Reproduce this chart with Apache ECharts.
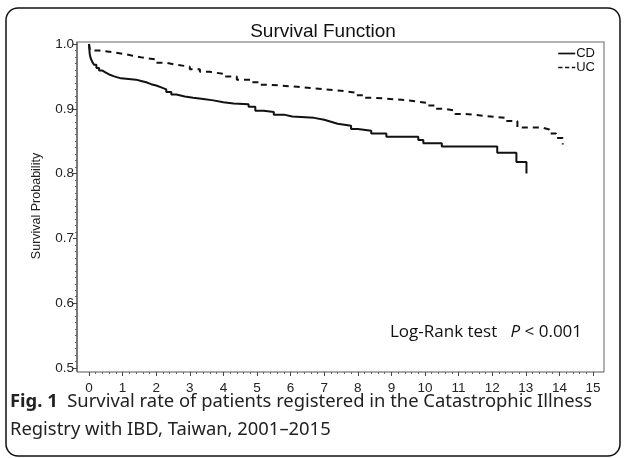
<!DOCTYPE html>
<html>
<head>
<meta charset="utf-8">
<script src="https://cdn.jsdelivr.net/npm/echarts@6/dist/echarts.min.js"></script>
<style>
  html, body { margin: 0; padding: 0; background: #fff; }
  #chart { width: 624px; height: 458px; }
</style>
</head>
<body>
<div id="chart"></div>
<script>
// Kaplan-Meier steps (years, survival after the step)
var cdTime = [0, 0.02, 0.05, 0.1, 0.15, 0.22, 0.3, 0.4, 0.5, 0.6, 0.75, 0.95, 1.4, 1.55, 1.7, 1.85, 2.0, 2.15, 2.3, 2.45, 2.6, 2.85, 3.1, 3.4, 3.7, 4.0, 4.3, 4.75, 4.95, 5.2, 5.5, 5.8, 6.05, 6.7, 7.0, 7.2, 7.4, 7.8, 8.0, 8.4, 8.85, 9.8, 9.95, 10.5, 12.15, 12.72, 13.02];
var cdSurv = [1.0, 0.985, 0.978, 0.972, 0.968, 0.963, 0.959, 0.956, 0.953, 0.95, 0.947, 0.945, 0.943, 0.941, 0.938, 0.936, 0.933, 0.93, 0.926, 0.922, 0.919, 0.917, 0.915, 0.913, 0.91, 0.908, 0.907, 0.903, 0.897, 0.895, 0.891, 0.888, 0.886, 0.883, 0.88, 0.877, 0.874, 0.869, 0.866, 0.862, 0.857, 0.852, 0.847, 0.842, 0.832, 0.818, 0.80];
var ucTime = [0, 0.03, 0.3, 0.6, 1.0, 1.3, 1.6, 2.0, 2.3, 2.6, 3.0, 3.3, 3.6, 4.0, 4.4, 4.8, 5.1, 5.4, 6.2, 6.6, 7.0, 7.5, 7.9, 8.2, 8.5, 9.3, 9.8, 10.1, 10.3, 10.6, 10.9, 11.2, 11.8, 12.4, 12.75, 13.5, 13.7, 13.9, 14.1];
var ucSurv = [1.0, 0.99, 0.988, 0.985, 0.982, 0.979, 0.976, 0.971, 0.968, 0.965, 0.961, 0.957, 0.954, 0.95, 0.945, 0.941, 0.937, 0.934, 0.932, 0.93, 0.928, 0.925, 0.921, 0.917, 0.914, 0.911, 0.909, 0.905, 0.9, 0.897, 0.892, 0.889, 0.886, 0.881, 0.871, 0.868, 0.862, 0.855, 0.845];

function zip(xs, ys) {
    var out = [];
    for (var i = 0; i < xs.length; i++) out.push([xs[i], ys[i]]);
    return out;
}

var myChart = echarts.init(document.getElementById('chart'));

var axisFont = { fontFamily: 'Liberation Sans', fontSize: 13.5, color: '#222' };
var hidden = { show: false };

var option = {
    animation: false,
    backgroundColor: '#fff',
    title: {
        text: 'Survival Function',
        left: 318,
        textAlign: 'center',
        top: 17,
        textStyle: { fontFamily: 'Liberation Sans', fontSize: 19, fontWeight: 'normal', color: '#111' }
    },
    legend: {
        orient: 'vertical',
        right: 24,
        top: 42,
        itemWidth: 17,
        itemHeight: 2,
        itemGap: 1,
        textStyle: { fontFamily: 'Liberation Sans', fontSize: 13, color: '#111', padding: [0, 0, 0, -4] },
        data: [
            { name: 'CD', icon: 'path://M0,0h20v2h-20z' },
            { name: 'UC', icon: 'path://M0,0h5v2h-5z M8,0h5v2h-5z M16,0h4v2h-4z' }
        ]
    },
    // grid 0 carries the visible y axis, grid 1 the data, grid 2 the visible x axis
    grid: [
        { left: 77, right: 20, top: 44, bottom: 90 },
        { left: 89, right: 31, top: 44, bottom: 90 },
        { left: 89, right: 31, top: 44, bottom: 86 }
    ],
    xAxis: [
        { gridIndex: 0, type: 'value', min: 0, max: 1, show: false },
        { gridIndex: 1, type: 'value', min: 0, max: 15, show: false },
        {
            gridIndex: 2, type: 'value',
            min: 0, max: 15, interval: 1,
            axisLine: hidden,
            axisTick: { show: true, length: 4, lineStyle: { color: '#444' } },
            minorTick: { show: true, splitNumber: 5, length: 2, lineStyle: { color: '#666' } },
            splitLine: hidden,
            axisLabel: Object.assign({ margin: 9 }, axisFont)
        }
    ],
    yAxis: [
        {
            gridIndex: 0, type: 'value',
            min: 0.5, max: 1.0, interval: 0.1,
            name: 'Survival Probability',
            nameLocation: 'middle',
            nameGap: 34,
            nameTextStyle: { fontFamily: 'Liberation Sans', fontSize: 12.5, color: '#222' },
            axisLine: hidden,
            axisTick: { show: true, length: 4, lineStyle: { color: '#444' } },
            minorTick: { show: true, splitNumber: 10, length: 2, lineStyle: { color: '#666' } },
            splitLine: hidden,
            axisLabel: Object.assign({ margin: 3, formatter: function (v) { return v.toFixed(1); } }, axisFont)
        },
        { gridIndex: 1, type: 'value', min: 0.5, max: 1.0, show: false },
        { gridIndex: 2, type: 'value', min: 0, max: 1, show: false }
    ],
    graphic: [
        // outer rounded figure box
        { type: 'rect', shape: { x: 6, y: 8, width: 614, height: 448, r: 12 }, style: { fill: 'none', stroke: '#111', lineWidth: 1.5 }, z: -1 },
        // plot frame
        { type: 'polyline', shape: { points: [[77, 372], [77, 42], [604, 42], [604, 372]] }, style: { fill: 'none', stroke: '#999', lineWidth: 1.5 } },
        { type: 'line', shape: { x1: 77, y1: 42, x2: 77, y2: 372 }, style: { stroke: '#555', lineWidth: 1.2 } },
        { type: 'line', shape: { x1: 77, y1: 372, x2: 604, y2: 372 }, style: { stroke: '#555', lineWidth: 1.2 } },
        {
            type: 'text', left: 390, top: 324,
            style: {
                text: 'Log-Rank test   {i|P} < 0.001',
                font: '17px "Open Sans"', fill: '#111',
                rich: { i: { fontStyle: 'italic', fontFamily: 'Open Sans', fontSize: 17 } }
            }
        },
        {
            type: 'text', left: 10, top: 388,
            style: {
                text: '{b|Fig. 1}  Survival rate of patients registered in the Catastrophic Illness\nRegistry with IBD, Taiwan, 2001\u20132015',
                font: '18.4px "Noto Sans"', fill: '#222', lineHeight: 28,
                rich: { b: { fontWeight: 'bold', fontFamily: 'Noto Sans', fontSize: 18.4, fill: '#222' } }
            }
        }
    ],
    series: [
        {
            name: 'CD', type: 'line', step: 'end', showSymbol: false, symbol: 'none',
            xAxisIndex: 1, yAxisIndex: 1,
            lineStyle: { color: '#111', width: 2 },
            itemStyle: { color: '#111' },
            data: zip(cdTime, cdSurv)
        },
        {
            name: 'UC', type: 'line', step: 'end', showSymbol: false, symbol: 'none',
            xAxisIndex: 1, yAxisIndex: 1,
            lineStyle: { color: '#111', width: 2, type: [6, 5] },
            itemStyle: { color: '#111' },
            data: zip(ucTime, ucSurv)
        }
    ]
};

myChart.setOption(option);
</script>
</body>
</html>
